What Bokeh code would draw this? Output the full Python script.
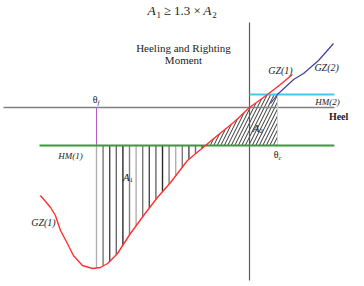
import numpy as np
from bokeh.plotting import figure
from bokeh.models import Range1d, Label
from bokeh.embed import file_html
from bokeh.resources import INLINE

# ---- data (heel angle in degrees, moment arm in arbitrary units) ----
heel_gz1 = [-69.7, -66.3, -64.7, -63.0, -60.7, -58.7, -55.7, -52.3, -49.7, -47.3,
            -44.0, -39.7, -35.3, -30.7, -26.3, -20.7, -14.7, -10.7, -5.3, 0.0,
            6.0, 10.3, 14.3]
gz1 = [-1.76, -2.00, -2.16, -2.46, -2.72, -2.96, -3.16, -3.22, -3.20, -3.12,
       -2.92, -2.52, -2.16, -1.80, -1.50, -1.06, -0.76, -0.56, -0.30, 0.0,
       0.26, 0.46, 0.66]
heel_gz2 = [7.0, 9.3, 14.7, 18.0, 23.0, 28.0]
gz2 = [0.08, 0.26, 0.56, 0.68, 0.94, 1.28]
hm1_level = -0.76
hm2_level = 0.26
hm1_heel = [-70.0, 28.3]
hm2_heel = [0.0, 28.3]
heel_axis = [-82.0, 28.3]
moment_axis = [1.7, -3.46]
theta_f = -51.0
theta_c = 9.33
theta_cross = -14.7

SERIF = "Liberation Serif"

p = figure(width=364, height=286, output_backend="svg", toolbar_location=None,
           x_range=Range1d(-83, 38.33), y_range=Range1d(-3.58, 2.14),
           min_border=0, background_fill_color="white", border_fill_color="white")
p.axis.visible = False
p.grid.visible = False
p.outline_line_color = None

hx = np.array(heel_gz1)
hy = np.array(gz1)

# ---- A1: vertical hatching between HM(1) and GZ(1) ----
xs_h = np.arange(theta_f, theta_cross, 2.2)
seg_x = [[x, x] for x in xs_h]
seg_y = [[hm1_level, float(np.interp(x, hx, hy))] for x in xs_h]
cyc = ["#b0b0b0", "#7a7a7a", "#4a4a4a", "#6a6a6a", "#2a2a2a", "#808080"]
cols = [cyc[i % len(cyc)] for i in range(len(xs_h))]
p.multi_line(xs=seg_x, ys=seg_y, line_color=cols, line_width=1.4)

# ---- A2: diagonal hatching ----
mask = (hy > hm1_level) & (hy <= hm2_level)
a2x = [theta_cross] + list(hx[mask]) + [theta_c, theta_c]
a2y = [hm1_level] + list(hy[mask]) + [hm2_level, hm1_level]
p.patch(a2x, a2y, fill_alpha=0, line_alpha=0, hatch_pattern="/",
        hatch_color="#333333", hatch_scale=7, hatch_weight=1)

# ---- axes ----
p.line(heel_axis, [0, 0], line_color="#808080", line_width=1.5)
p.line([0, 0], moment_axis, line_color="#5a5a5a", line_width=1.2)

# ---- angle markers ----
p.line([theta_f, theta_f], [0, hm1_level], line_color="#b060c0", line_width=1)
p.line([theta_c, theta_c], [hm2_level, hm1_level], line_color="#e4c4e4", line_width=1)

# ---- heeling moments ----
p.line(hm1_heel, [hm1_level, hm1_level], line_color="#3a9a3a", line_width=2)
p.line(hm2_heel, [hm2_level, hm2_level], line_color="#44c8f0", line_width=2)

# ---- righting arm curves ----
p.line(heel_gz1, gz1, line_color="#ff3030", line_width=1.4)
p.line(heel_gz2, gz2, line_color="#4040a0", line_width=1.2)


def lab(x, y, t, size=10, style="normal", align="center", xo=0, yo=0, color="#222222"):
    p.add_layout(Label(x=x, y=y, text=t, text_font=SERIF, text_font_size=f"{size}px",
                       text_font_style=style, text_align=align, text_baseline="middle",
                       x_offset=xo, y_offset=yo, text_color=color))


# title: A1 >= 1.3 x A2
lab(-34.0, 1.94, "A", 13.5, "italic", "left")
lab(-34.0, 1.94, "1", 9, "normal", "left", xo=9, yo=-4)
lab(-28.6, 1.94, "≥ 1.3 ×", 13, "normal", "left")
lab(-15.4, 1.94, "A", 13.5, "italic", "left")
lab(-15.4, 1.94, "2", 9, "normal", "left", xo=9, yo=-4)

lab(-22.0, 1.19, "Heeling and Righting", 11)
lab(-22.0, 0.96, "Moment", 11)

lab(10.3, 0.74, "GZ(1)", 10, "italic")
lab(25.7, 0.80, "GZ(2)", 10, "italic")
lab(26.0, 0.12, "HM(2)", 9, "italic")
lab(29.7, -0.18, "Heel", 10, "bold")
lab(-59.7, -0.96, "HM(1)", 9, "italic")
lab(-68.7, -2.30, "GZ(1)", 10, "italic")

lab(-51.0, 0.16, "θ", 10, "normal", "right", xo=1)
lab(-51.0, 0.16, "f", 7, "italic", "left", xo=1, yo=-3)
lab(9.33, -0.94, "θ", 10, "normal", "right", xo=1)
lab(9.33, -0.94, "c", 7, "italic", "left", xo=1, yo=-3)
lab(-40.3, -1.38, "A", 11, "italic", "right", xo=1)
lab(-40.3, -1.38, "1", 7, "normal", "left", xo=1, yo=-3)
lab(3.0, -0.40, "A", 11, "italic", "right", xo=1)
lab(3.0, -0.40, "2", 7, "normal", "left", xo=1, yo=-3)

open("out.html", "w").write(file_html(p, INLINE))
